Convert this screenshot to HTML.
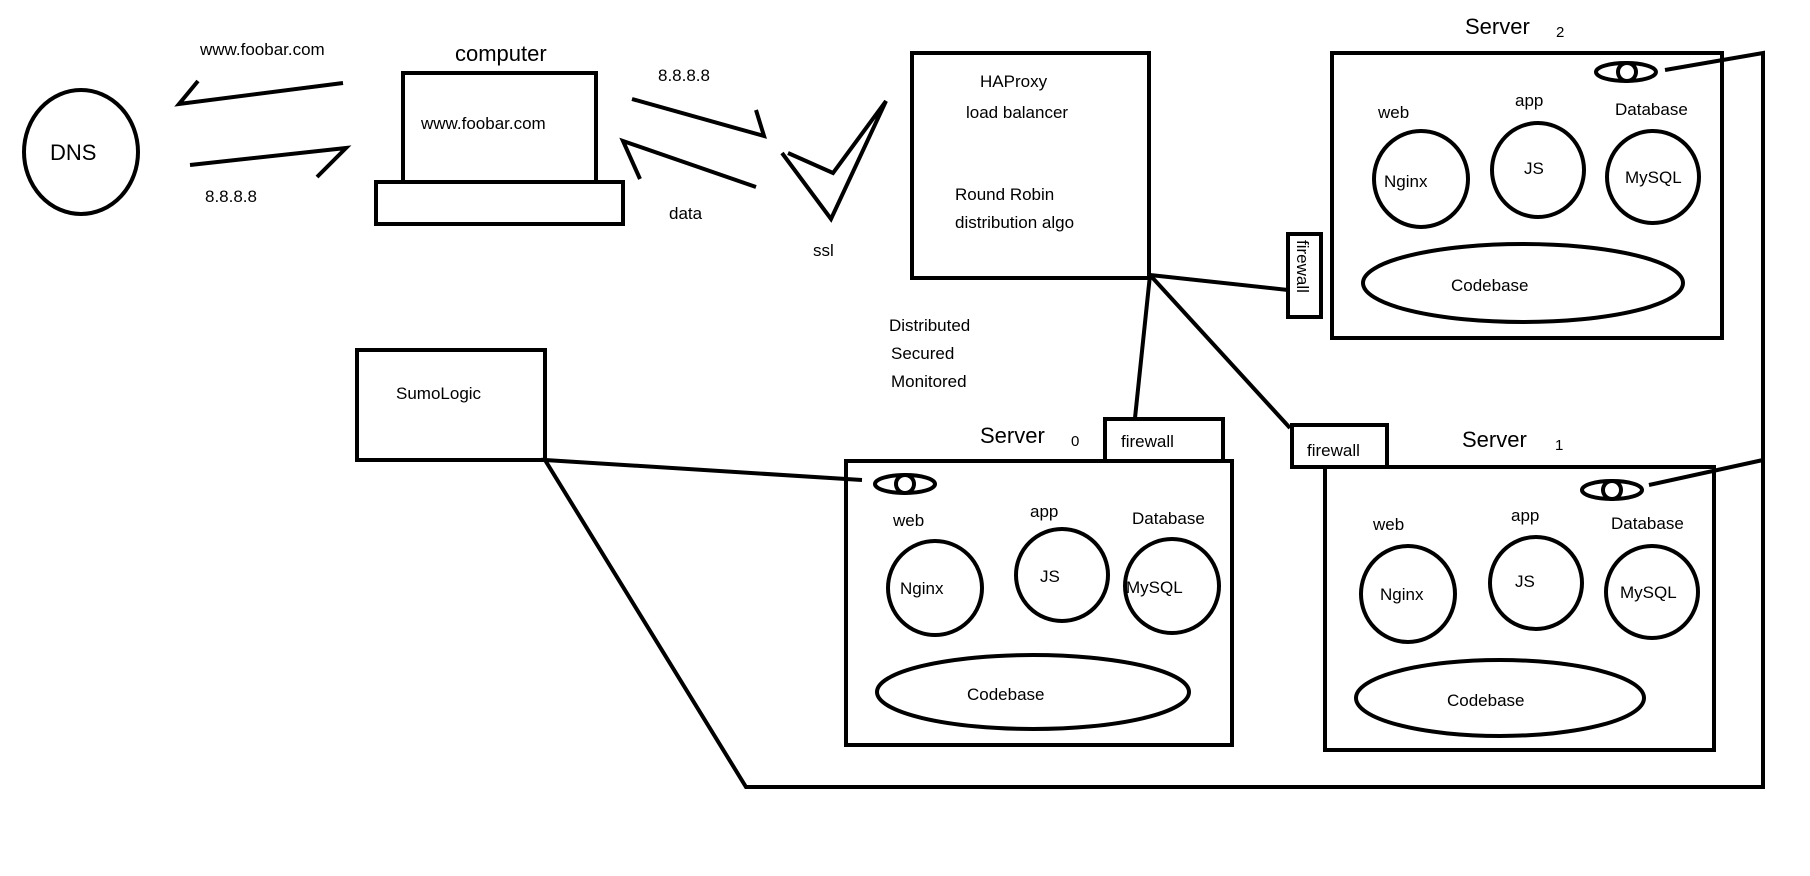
<!DOCTYPE html>
<html><head><meta charset="utf-8"><style>
html,body{margin:0;padding:0;background:#fff;width:1810px;height:876px;overflow:hidden}
svg{display:block}
text{font-family:"Liberation Sans",sans-serif;fill:#000}
</style></head><body>
<svg width="1810" height="876" viewBox="0 0 1810 876" xmlns="http://www.w3.org/2000/svg">
<g fill="none" stroke="#000" stroke-width="4" stroke-linejoin="miter">
<ellipse cx="81" cy="152" rx="57" ry="62"/>
<polyline points="343,83 179,104 198,81"/>
<polyline points="190,165 346,148 317,177"/>
<rect x="403" y="73" width="193" height="109"/>
<rect x="376" y="182" width="247" height="42"/>
<polyline points="632,99 764,136 756,110"/>
<polyline points="756,187 623,141 640,179"/>
<path d="M782,153 L831,219 L886,101 L833,173 L788,153"/>
<rect x="912" y="53" width="237" height="225"/>
<rect x="1332" y="53" width="390" height="285"/>
<ellipse cx="1626" cy="72" rx="30" ry="9"/><circle cx="1627" cy="72" r="9"/>
<ellipse cx="1421" cy="179" rx="47" ry="48"/>
<ellipse cx="1538" cy="170" rx="46" ry="47"/>
<ellipse cx="1653" cy="177" rx="46" ry="46"/>
<ellipse cx="1523" cy="283" rx="160" ry="39"/>
<rect x="1288" y="234" width="33" height="83"/>
<polyline points="1150,275 1288,290"/>
<polyline points="1150,275 1135,418"/>
<polyline points="1150,275 1290,428"/>
<polyline points="1665,70 1763,53 1763,787 746,787 545,460 862,480"/>
<polyline points="1649,485 1763,460"/>
<rect x="357" y="350" width="188" height="110"/>
<rect x="846" y="461" width="386" height="284"/>
<rect x="1105" y="419" width="118" height="42"/>
<ellipse cx="905" cy="484" rx="30" ry="9"/><circle cx="905" cy="484" r="9"/>
<ellipse cx="935" cy="588" rx="47" ry="47"/>
<ellipse cx="1062" cy="575" rx="46" ry="46"/>
<ellipse cx="1172" cy="586" rx="47" ry="47"/>
<ellipse cx="1033" cy="692" rx="156" ry="37"/>
<rect x="1325" y="467" width="389" height="283"/>
<rect x="1292" y="425" width="95" height="42"/>
<ellipse cx="1612" cy="490" rx="30" ry="9"/><circle cx="1612" cy="490" r="9"/>
<ellipse cx="1408" cy="594" rx="47" ry="48"/>
<ellipse cx="1536" cy="583" rx="46" ry="46"/>
<ellipse cx="1652" cy="592" rx="46" ry="46"/>
<ellipse cx="1500" cy="698" rx="144" ry="38"/>
</g>
<g font-size="17">
<text x="50" y="160" font-size="22">DNS</text>
<text x="200" y="55">www.foobar.com</text>
<text x="205" y="202">8.8.8.8</text>
<text x="455" y="61" font-size="22">computer</text>
<text x="421" y="129">www.foobar.com</text>
<text x="658" y="81">8.8.8.8</text>
<text x="669" y="219">data</text>
<text x="813" y="256">ssl</text>
<text x="980" y="87">HAProxy</text>
<text x="966" y="118">load balancer</text>
<text x="955" y="200">Round Robin</text>
<text x="955" y="228">distribution algo</text>
<text x="889" y="331">Distributed</text>
<text x="891" y="359">Secured</text>
<text x="891" y="387">Monitored</text>
<text x="396" y="399">SumoLogic</text>
<text x="1465" y="34" font-size="22">Server</text><text x="1556" y="37" font-size="15">2</text>
<text x="980" y="443" font-size="22">Server</text><text x="1071" y="446" font-size="15">0</text>
<text x="1462" y="447" font-size="22">Server</text><text x="1555" y="450" font-size="15">1</text>
<text x="1121" y="447">firewall</text>
<text x="1307" y="456">firewall</text>
<text x="0" y="0" transform="translate(1297,240) rotate(90)">firewall</text>
<text x="1378" y="118">web</text>
<text x="1515" y="106">app</text>
<text x="1615" y="115">Database</text>
<text x="1384" y="187">Nginx</text>
<text x="1524" y="174">JS</text>
<text x="1625" y="183">MySQL</text>
<text x="1451" y="291">Codebase</text>
<text x="893" y="526">web</text>
<text x="1030" y="517">app</text>
<text x="1132" y="524">Database</text>
<text x="900" y="594">Nginx</text>
<text x="1040" y="582">JS</text>
<text x="1126" y="593">MySQL</text>
<text x="967" y="700">Codebase</text>
<text x="1373" y="530">web</text>
<text x="1511" y="521">app</text>
<text x="1611" y="529">Database</text>
<text x="1380" y="600">Nginx</text>
<text x="1515" y="587">JS</text>
<text x="1620" y="598">MySQL</text>
<text x="1447" y="706">Codebase</text>
</g>
</svg>
</body></html>
